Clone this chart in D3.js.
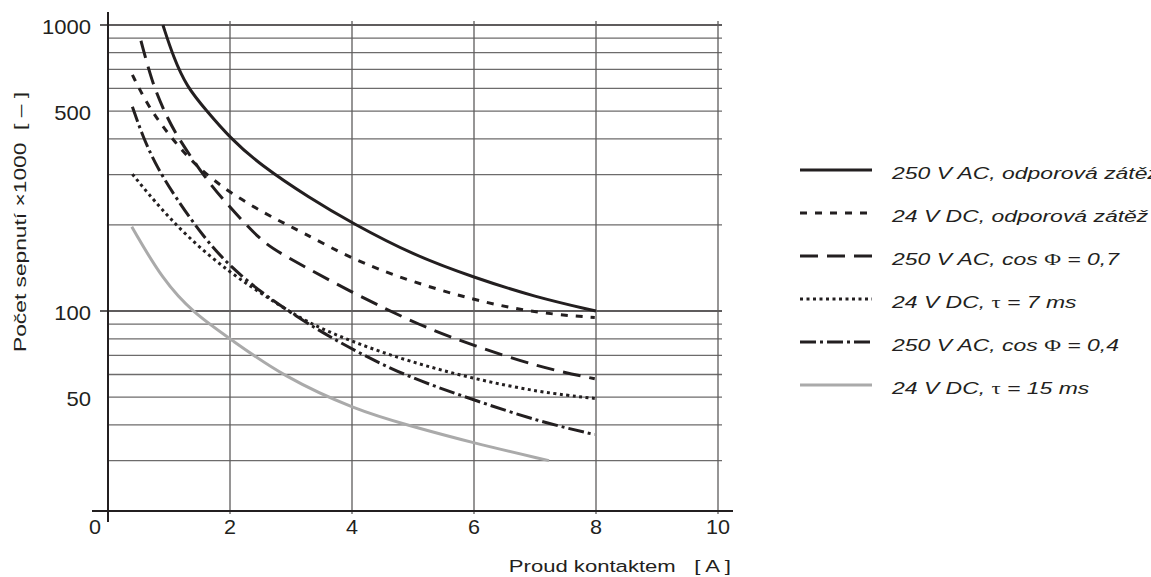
<!DOCTYPE html>
<html>
<head>
<meta charset="utf-8">
<script src="https://cdn.jsdelivr.net/npm/d3@7"></script>
<style>
  body { margin: 0; background: #fff; }
  svg { display: block; font-family: "Liberation Sans", Arial, sans-serif; }
  text { fill: #231f20; white-space: pre; }
</style>
</head>
<body>
<svg width="1151" height="577"></svg>
<script>
// current in A vs. switching cycles x1000 (log axis)
var xTicks = [0, 2, 4, 6, 8, 10]
var yTicks = [1000, 500, 100, 50]
var yGrid = [30, 40, 50, 60, 70, 80, 90, 100, 200, 300, 400, 500, 600, 700, 800, 900, 1000]

var seriesNames = [
  '250 V AC, odporová zátěž',
  '24 V DC, odporová zátěž',
  '250 V AC, cos Φ = 0,7',
  '24 V DC, τ = 7 ms',
  '250 V AC, cos Φ = 0,4',
  '24 V DC, τ = 15 ms'
]

// [current, cycles]
var acResistive = [[0.9, 1000], [1.07, 774], [1.29, 608], [1.62, 500], [2, 403], [2.49, 325], [3.31, 248], [4, 203], [5, 157], [6, 131], [7, 112], [8, 100]]
var dcResistive = [[0.4, 669], [0.66, 518], [1.02, 407], [1.45, 319], [2.05, 254], [2.77, 208], [3.2, 188], [3.8, 160], [4.62, 134], [5.98, 109], [7.08, 98], [7.98, 95]]
var acCos07 = [[0.54, 881], [0.72, 633], [0.91, 505], [1.13, 407], [1.62, 287], [1.89, 245], [2.49, 177], [2.82, 159], [4.0, 116], [5.16, 88], [5.98, 76], [7.08, 63.5], [7.98, 58]]
var dcTau7 = [[0.4, 301], [0.74, 245], [1.29, 182], [2.0, 136], [2.6, 112], [3.26, 91], [4.08, 77], [4.9, 67], [5.98, 58], [7.08, 52], [7.98, 49.5]]
var acCos04 = [[0.4, 518], [0.57, 407], [0.8, 319], [1.1, 251], [1.56, 182], [2.0, 143], [2.6, 112], [3.43, 86], [4.08, 72], [4.9, 59], [5.98, 49], [7.08, 41], [7.98, 37]]
var dcTau15 = [[0.39, 197], [0.9, 128], [1.41, 98], [2.0, 80], [2.87, 59], [4.08, 45], [4.9, 40], [5.98, 34.6], [7.23, 30]]

var seriesData = [acResistive, dcResistive, acCos07, dcTau7, acCos04, dcTau15]
var seriesColor = ['#231f20', '#231f20', '#231f20', '#231f20', '#231f20', '#aaaaaa']
var seriesDash = [null, '7,8', '18,9', '3,3.5', '16,4,3,4', null]

var svg = d3.select('svg')

var x = d3.scaleLinear().domain([0, 10]).range([108, 718])
var y = d3.scaleLog().domain([20, 1000]).range([511, 25])

// the reference type is set wider than normal, so stretch it
function label (px, py, str, size, anchor, sx, extra) {
  return svg.append('text')
    .attr('transform', 'translate(' + px + ',' + py + ')' + (extra || '') + ' scale(' + sx + ',1)')
    .attr('text-anchor', anchor)
    .style('font-size', size + 'px')
    .text(str)
}

// horizontal grid
svg.append('g').selectAll('line')
  .data(yGrid)
  .enter()
  .append('line')
  .attr('x1', (d) => (d === 1000 || d === 100) ? 100 : x(0))
  .attr('x2', 722)
  .attr('y1', (d) => y(d))
  .attr('y2', (d) => y(d))
  .style('stroke', (d) => (d === 1000 || d === 100) ? '#2a2627' : '#6d6b6b')
  .style('stroke-width', (d) => (d === 1000 || d === 100) ? 1.6 : 1.3)

// vertical grid
svg.append('g').selectAll('line')
  .data(xTicks.slice(1))
  .enter()
  .append('line')
  .attr('x1', (d) => x(d))
  .attr('x2', (d) => x(d))
  .attr('y1', 21)
  .attr('y2', 514)
  .style('stroke', '#5e5c5c')
  .style('stroke-width', 1.3)

// axis lines
svg.append('line')
  .attr('x1', x(0)).attr('x2', x(0))
  .attr('y1', 12).attr('y2', 522)
  .style('stroke', '#231f20').style('stroke-width', 2)
svg.append('line')
  .attr('x1', 92).attr('x2', 733)
  .attr('y1', y(20)).attr('y2', y(20))
  .style('stroke', '#231f20').style('stroke-width', 2)

// tick labels
yTicks.forEach((d) => label(91, y(d) + 8.5, String(d), 21, 'end', 1.05))
xTicks.forEach((d) => label(d === 0 ? 95 : x(d), 534, String(d), 20, 'middle', 1.08))

// axis titles
label(731, 572, 'Proud kontaktem   [ A ]', 17, 'end', 1.3)
label(26, 222, 'Počet sepnutí ×1000  [ – ]', 17, 'middle', 1.34, ' rotate(-90)')

// curves
var line = d3.line()
  .x((d) => x(d[0]))
  .y((d) => y(d[1]))
  .curve(d3.curveBasis)

svg.append('g').selectAll('path')
  .data(seriesData)
  .enter()
  .append('path')
  .attr('d', line)
  .style('fill', 'none')
  .style('stroke', (d, i) => seriesColor[i])
  .style('stroke-width', 3)
  .style('stroke-dasharray', (d, i) => seriesDash[i])

// legend
var legendY = [170, 213, 256, 299, 342, 385]
var legend = svg.append('g').selectAll('g')
  .data(seriesNames)
  .enter()
  .append('g')
  .attr('transform', (d, i) => 'translate(0,' + legendY[i] + ')')

legend.append('line')
  .attr('x1', 800).attr('x2', 872)
  .attr('y1', 0).attr('y2', 0)
  .style('stroke', (d, i) => seriesColor[i])
  .style('stroke-width', 3)
  .style('stroke-dasharray', (d, i) => seriesDash[i])

legend.append('text')
  .attr('transform', 'translate(892,9) scale(1.35,1)')
  .style('font-size', '17px')
  .style('font-style', 'italic')
  .each(function (d) {
    var t = d3.select(this)
    d.split(/([Φτ])/).forEach((part) => {
      if (!part) return
      var s = t.append('tspan').text(part)
      if (part === 'Φ' || part === 'τ') {
        s.style('font-style', 'normal').style('font-family', '"Liberation Serif", "DejaVu Serif", serif')
      }
    })
  })
</script>
</body>
</html>
